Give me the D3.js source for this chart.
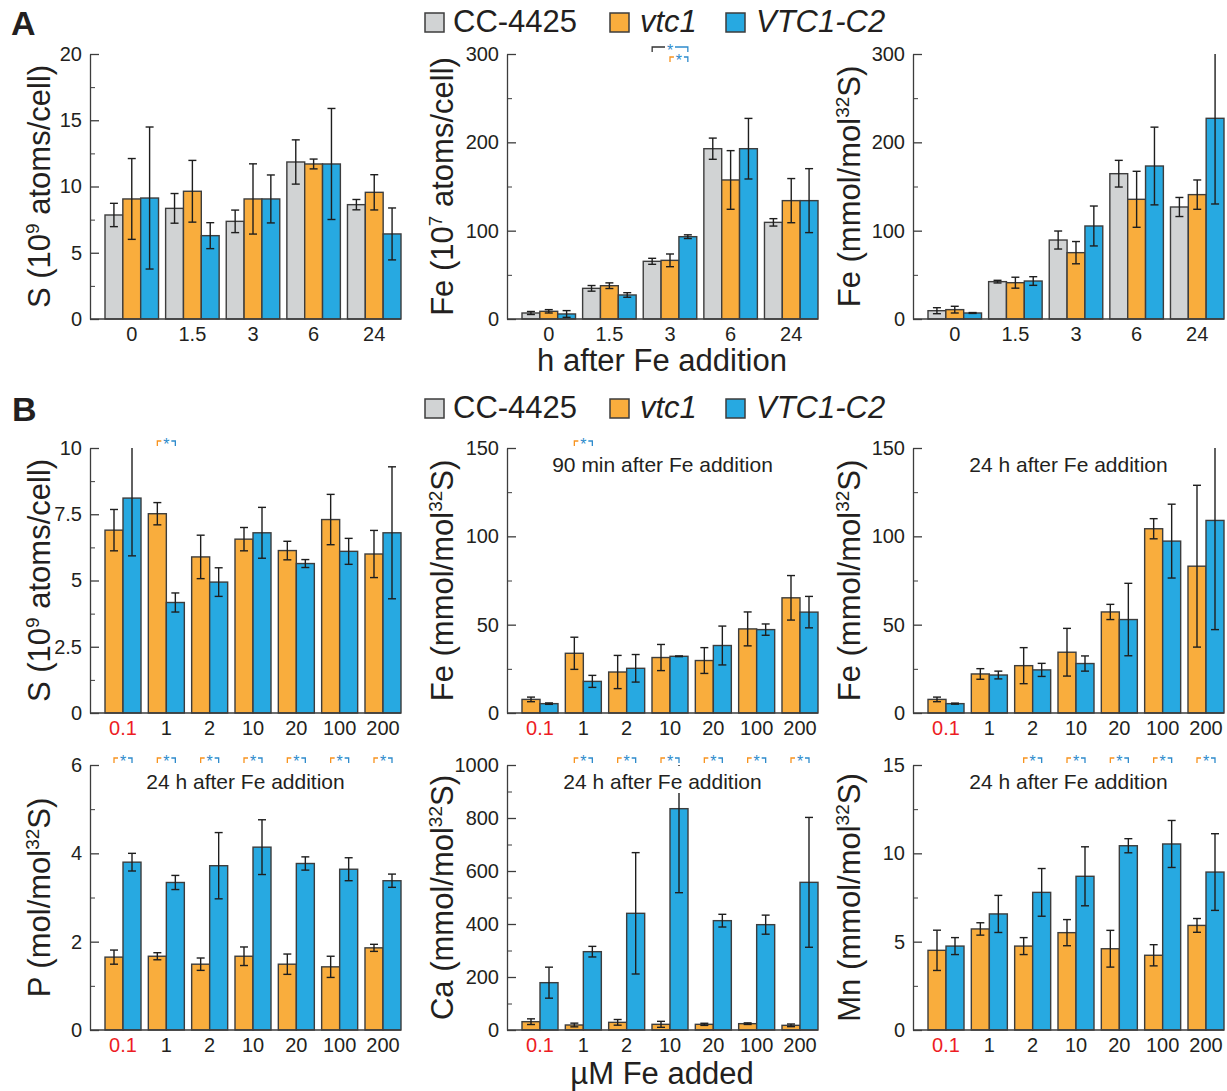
<!DOCTYPE html>
<html>
<head>
<meta charset="utf-8">
<script src="https://cdn.jsdelivr.net/npm/d3@7"></script>
<style>
  body { margin: 0; background: #fff; }
  svg text { font-family: "Liberation Sans", Arial, sans-serif; fill: #231f20; }
</style>
</head>
<body>
<script>
// --- data ---
const hours = ["0", "1.5", "3", "6", "24"];
const feAdded = ["0.1", "1", "2", "10", "20", "100", "200"];
const strains = ["CC-4425", "vtc1", "VTC1-C2"];
const strainColors = ["#d1d3d4", "#f9ad3d", "#27a9e1"];

// panel A, rows follow strains
const sCellTime = [[7.85, 8.35, 7.37, 11.85, 8.63], [9.06, 9.64, 9.06, 11.7, 9.56], [9.13, 6.29, 9.06, 11.7, 6.42]];
const sCellTimeErr = [[0.88, 1.12, 0.85, 1.67, 0.39], [3.05, 2.33, 2.65, 0.37, 1.33], [5.36, 0.98, 1.81, 4.19, 1.96]];
const feCellTime = [[6.8, 34.7, 65.3, 192.8, 109.4], [8.7, 37.7, 66.4, 157.4, 134], [5.7, 27.2, 93.2, 192.8, 134]];
const feCellTimeErr = [[1.7, 3.2, 3.4, 12, 4.2], [1.9, 3.2, 7.2, 33.2, 25], [3.8, 2.6, 2.1, 34.3, 36.2]];
const feSTime = [[9.4, 42.3, 89.4, 164.5, 126.8], [10.6, 41.1, 75.1, 135.5, 140.8], [6.8, 43, 105.3, 173.2, 227.2]];
const feSTimeErr = [[3.4, 1.5, 10.2, 15.1, 10.8], [3.8, 6.2, 12.6, 31.7, 16.6], [0.5, 4.9, 22.6, 44, 97]];

// panel B, rows are vtc1 then VTC1-C2
const sCellDose = [[6.9, 7.52, 5.89, 6.56, 6.13, 7.3, 6.0], [8.11, 4.17, 4.94, 6.8, 5.64, 6.1, 6.8]];
const sCellDoseErr = [[0.78, 0.42, 0.82, 0.44, 0.35, 0.95, 0.89], [2.18, 0.36, 0.54, 0.96, 0.15, 0.49, 2.49]];
const fe90 = [[7.7, 33.8, 23.2, 31.4, 29.7, 47.6, 65.2], [5.3, 17.9, 25.3, 32.1, 38.2, 47.2, 57.1]];
const fe90Err = [[1.3, 9.1, 9.4, 7.4, 7.3, 9.6, 12.6], [0.4, 3.4, 7.8, 0.2, 11, 3.2, 8.9]];
const fe24 = [[7.7, 22.1, 26.8, 34.4, 57.2, 104.3, 83.1], [5.3, 21.5, 24.4, 28, 52.9, 97.3, 109]];
const fe24Err = [[1.3, 3, 10.2, 13.5, 4.3, 5.7, 45.8], [0.3, 2.2, 3.7, 4.3, 20.5, 20.9, 61.8]];
const p24 = [[1.65, 1.67, 1.49, 1.67, 1.49, 1.43, 1.86], [3.8, 3.34, 3.72, 4.14, 3.77, 3.64, 3.38]];
const p24Err = [[0.16, 0.08, 0.14, 0.21, 0.23, 0.24, 0.08], [0.2, 0.16, 0.75, 0.62, 0.15, 0.26, 0.15]];
const ca24 = [[31.4, 18.9, 28.9, 21.4, 21.4, 23.9, 17.6], [178.6, 295.6, 440.3, 835.2, 412.6, 397.5, 557.2]];
const ca24Err = [[10.7, 7, 10.7, 11.3, 4, 3, 5], [58.5, 20, 229, 317, 24, 36, 245]];
const mn24 = [[4.51, 5.72, 4.75, 5.51, 4.6, 4.23, 5.92], [4.75, 6.57, 7.79, 8.7, 10.43, 10.53, 8.94]];
const mn24Err = [[1.14, 0.35, 0.48, 0.74, 1.04, 0.6, 0.39], [0.48, 1.05, 1.35, 1.67, 0.4, 1.33, 2.17]];

// significance brackets (vtc1 vs VTC1-C2)
const sigSCell = ["1"];
const sigFe90 = ["1"];
const sigP = feAdded;
const sigCa = ["1", "2", "10", "20", "100", "200"];
const sigMn = ["2", "10", "20", "100", "200"];

// --- layout ---
const W = 1227, H = 1091;
const cols = [90, 507, 913];
const ylOff = [-40, -54, -53];
const rowA = {top: 54, bottom: 319};
const rowB1 = {top: 448, bottom: 713};
const rowB2 = {top: 765, bottom: 1030};
const edgeColor = "#3d3d3d";
const sigColors = ["#333333", "#f7931e", "#2e8bcc"];

const svg = d3.select("body").append("svg")
    .attr("width", W).attr("height", H)
    .attr("viewBox", `0 0 ${W} ${H}`);

function bracket(g, xL, xR, yy, leftColor) {
    let mid = (xL + xR) / 2;
    g.append("path")
        .attr("d", `M${xL},${yy + 5}V${yy}H${mid - 5}`)
        .attr("fill", "none").attr("stroke", leftColor).attr("stroke-width", 1.3);
    g.append("path")
        .attr("d", `M${mid + 5},${yy}H${xR}V${yy + 5}`)
        .attr("fill", "none").attr("stroke", sigColors[2]).attr("stroke-width", 1.3);
    g.append("text")
        .attr("x", mid).attr("y", yy + 9)
        .attr("text-anchor", "middle")
        .attr("font-size", 16)
        .style("fill", sigColors[2])
        .text("*");
}

function drawPanel(o) {
    let g = svg.append("g");
    let x0 = cols[o.col];
    let top = o.row.top, bottom = o.row.bottom;

    let x = d3.scaleBand()
        .domain(o.cats)
        .range([x0 + 15, x0 + 311])
        .paddingInner(o.cats.length == 5 ? 0.117 : 0.169)
        .paddingOuter(0);
    let sub = d3.scaleBand().domain(o.series).range([0, x.bandwidth()]);
    let y = d3.scaleLinear().domain([0, o.yMax]).range([bottom, top]);

    // bars
    o.series.forEach(function(s, k) {
        let data = o.cats.map((c, i) => ({c: c, v: o.means[k][i], e: o.errs[k][i]}));
        g.append("g").selectAll("rect").data(data).join("rect")
            .attr("x", d => x(d.c) + sub(s))
            .attr("y", d => y(d.v))
            .attr("width", sub.bandwidth())
            .attr("height", d => y(0) - y(d.v))
            .attr("fill", strainColors[s])
            .attr("stroke", edgeColor)
            .attr("stroke-width", 1.4);
    });

    // error bars
    o.series.forEach(function(s, k) {
        let data = o.cats.map((c, i) => ({c: c, v: o.means[k][i], e: o.errs[k][i]}));
        let eg = g.append("g").attr("stroke", "#1e1e1e").attr("stroke-width", 1.4).attr("fill", "none");
        data.forEach(function(d) {
            let cx = x(d.c) + sub(s) + sub.bandwidth() / 2;
            let hi = Math.min(d.v + d.e, o.yMax);
            let lo = Math.max(d.v - d.e, 0);
            eg.append("line").attr("x1", cx).attr("x2", cx).attr("y1", y(hi)).attr("y2", y(lo));
            if (d.v + d.e <= o.yMax) {
                eg.append("line").attr("x1", cx - 4).attr("x2", cx + 4).attr("y1", y(hi)).attr("y2", y(hi));
            }
            eg.append("line").attr("x1", cx - 4).attr("x2", cx + 4).attr("y1", y(lo)).attr("y2", y(lo));
        });
    });

    // annotation with white backing
    if (o.note) {
        let t = g.append("text")
            .attr("x", x0 + 155.5).attr("y", top + 24)
            .attr("text-anchor", "middle")
            .attr("font-size", 21)
            .text(o.note);
        let bb = t.node().getBBox();
        g.insert("rect", () => t.node())
            .attr("x", bb.x - 2).attr("y", top + 1)
            .attr("width", bb.width + 4)
            .attr("height", bb.y + bb.height - top - 1)
            .attr("fill", "#fff");
    }

    // significance
    (o.sig || []).forEach(function(c) {
        let xL = x(c) + sub(1) + sub.bandwidth() / 2;
        let xR = x(c) + sub(2) + sub.bandwidth() / 2;
        bracket(g, xL, xR, top - 7, sigColors[1]);
    });
    (o.sigA || []).forEach(function(c) {
        let xG = x(c) + sub(0) + sub.bandwidth() / 2;
        let xO = x(c) + sub(1) + sub.bandwidth() / 2;
        let xB = x(c) + sub(2) + sub.bandwidth() / 2;
        bracket(g, xG, xB, top - 7, sigColors[0]);
        bracket(g, xO, xB, top + 3, sigColors[1]);
    });

    // y axis
    let major = d3.range(0, o.yMax + o.step / 10, o.step);
    let minor = d3.range(o.step / 2, o.yMax, o.step);
    g.append("g")
        .attr("transform", `translate(${x0},0)`)
        .call(d3.axisLeft(y).tickValues(minor).tickSize(-5).tickFormat(""))
        .call(a => a.select(".domain").remove())
        .attr("color", edgeColor);
    g.append("g")
        .attr("transform", `translate(${x0},0)`)
        .call(d3.axisLeft(y).tickValues(major).tickSize(-9).tickSizeOuter(0).tickPadding(8).tickFormat(d => String(d)))
        .attr("color", edgeColor)
        .attr("font-size", 20)
        .call(a => a.selectAll("path, line").attr("stroke-width", 1.3));

    // x axis
    g.append("line")
        .attr("x1", x0).attr("x2", x0 + 311)
        .attr("y1", bottom).attr("y2", bottom)
        .attr("stroke", edgeColor).attr("stroke-width", 1.3);
    g.append("g")
        .attr("transform", `translate(0,${bottom})`)
        .call(d3.axisBottom(x).tickSize(0).tickPadding(8))
        .attr("font-size", 20)
        .call(a => a.select(".domain").remove())
        .call(a => a.selectAll(".tick text").filter(d => d == "0.1").style("fill", "#ed1c24"));

    // y label
    let yl = g.append("text")
        .attr("transform", `translate(${x0 + ylOff[o.col]},${(top + bottom) / 2}) rotate(-90)`)
        .attr("text-anchor", "middle")
        .attr("font-size", 31);
    yl.append("tspan").text(o.label[0]);
    yl.append("tspan").attr("dy", -11).attr("font-size", 19).text(o.label[1]);
    yl.append("tspan").attr("dy", 11).text(o.label[2]);
}

function legend(yBase) {
    let items = [{bx: 425, tx: 453}, {bx: 610, tx: 640}, {bx: 726, tx: 756}];
    let lg = svg.append("g");
    items.forEach(function(it, i) {
        lg.append("rect")
            .attr("x", it.bx).attr("y", yBase - 19)
            .attr("width", 19).attr("height", 19)
            .attr("fill", strainColors[i])
            .attr("stroke", edgeColor).attr("stroke-width", 1.5);
        lg.append("text")
            .attr("x", it.tx).attr("y", yBase)
            .attr("font-size", 31)
            .attr("font-style", i == 0 ? "normal" : "italic")
            .text(strains[i]);
    });
}

const perCell9 = ["S (10", "9", " atoms/cell)"];
const perS = w => [w + " (mmol/mol", "32", "S)"];

// panel A
drawPanel({col: 0, row: rowA, cats: hours, series: [0, 1, 2], means: sCellTime, errs: sCellTimeErr,
    yMax: 20, step: 5, label: perCell9});
drawPanel({col: 1, row: rowA, cats: hours, series: [0, 1, 2], means: feCellTime, errs: feCellTimeErr,
    yMax: 300, step: 100, label: ["Fe (10", "7", " atoms/cell)"], sigA: ["3"]});
drawPanel({col: 2, row: rowA, cats: hours, series: [0, 1, 2], means: feSTime, errs: feSTimeErr,
    yMax: 300, step: 100, label: perS("Fe")});

// panel B
drawPanel({col: 0, row: rowB1, cats: feAdded, series: [1, 2], means: sCellDose, errs: sCellDoseErr,
    yMax: 10, step: 2.5, label: perCell9, sig: sigSCell});
drawPanel({col: 1, row: rowB1, cats: feAdded, series: [1, 2], means: fe90, errs: fe90Err,
    yMax: 150, step: 50, label: perS("Fe"), sig: sigFe90, note: "90 min after Fe addition"});
drawPanel({col: 2, row: rowB1, cats: feAdded, series: [1, 2], means: fe24, errs: fe24Err,
    yMax: 150, step: 50, label: perS("Fe"), note: "24 h after Fe addition"});
drawPanel({col: 0, row: rowB2, cats: feAdded, series: [1, 2], means: p24, errs: p24Err,
    yMax: 6, step: 2, label: ["P (mol/mol", "32", "S)"], sig: sigP, note: "24 h after Fe addition"});
drawPanel({col: 1, row: rowB2, cats: feAdded, series: [1, 2], means: ca24, errs: ca24Err,
    yMax: 1000, step: 200, label: perS("Ca"), sig: sigCa, note: "24 h after Fe addition"});
drawPanel({col: 2, row: rowB2, cats: feAdded, series: [1, 2], means: mn24, errs: mn24Err,
    yMax: 15, step: 5, label: perS("Mn"), sig: sigMn, note: "24 h after Fe addition"});

legend(32);
legend(418);

// panel letters and shared axis titles
svg.append("text").attr("x", 11).attr("y", 35).attr("font-size", 34).attr("font-weight", "bold").text("A");
svg.append("text").attr("x", 12).attr("y", 421).attr("font-size", 34).attr("font-weight", "bold").text("B");
svg.append("text").attr("x", 662).attr("y", 371).attr("text-anchor", "middle").attr("font-size", 31)
    .text("h after Fe addition");
svg.append("text").attr("x", 662).attr("y", 1084).attr("text-anchor", "middle").attr("font-size", 31)
    .text("µM Fe added");
</script>
</body>
</html>
